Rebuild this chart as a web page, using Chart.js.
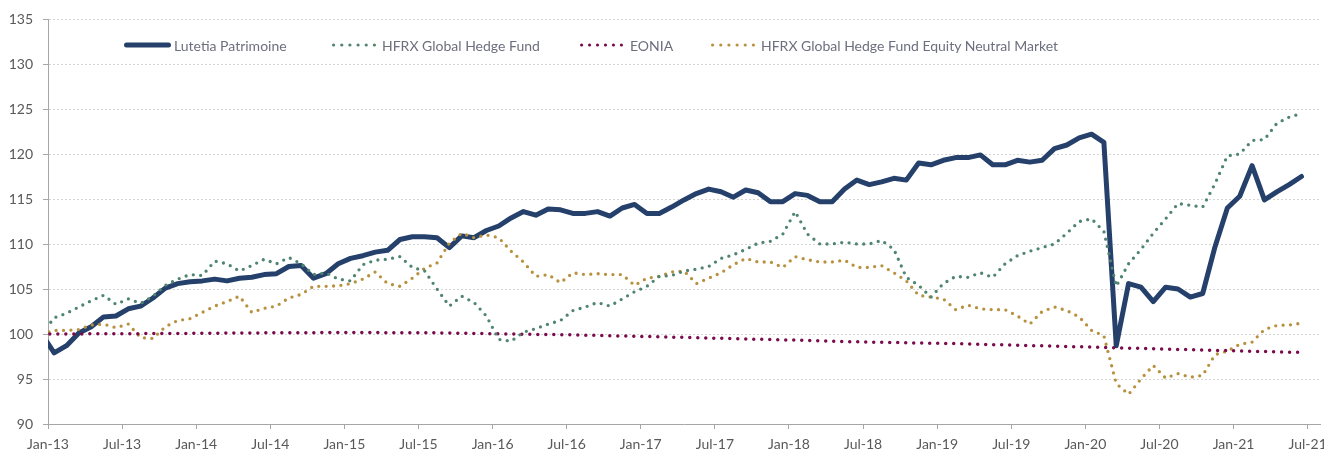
<!DOCTYPE html>
<html>
<head>
<meta charset="utf-8">
<script src="https://cdn.jsdelivr.net/npm/chart.js@4.4.1/dist/chart.umd.min.js"></script>
<style>
  html, body { margin: 0; padding: 0; background: #fff; }
  #wrap { position: relative; width: 1324px; height: 450px; overflow: hidden; }
  #legend { position: absolute; top: 36px; left: 0; font: 14px Lato, sans-serif; color: #6d6f7f; }
  .item { position: absolute; top: 0; height: 18px; display: flex; align-items: center; white-space: nowrap; }
  .item svg { display: block; }
</style>
</head>
<body>
<div id="wrap">
  <canvas id="myChart" width="1324" height="450"></canvas>
  <div id="legend"></div>
</div>
<script>
// monthly index values, Dec-12 (base 100) to Jun-21
var lutetia = [100,
  97.9, 98.7, 100.1, 100.8, 101.9, 102.0, 102.8, 103.1, 104.0, 105.1, 105.6, 105.8,
  105.9, 106.1, 105.9, 106.2, 106.3, 106.6, 106.7, 107.5, 107.6, 106.2, 106.7, 107.8,
  108.4, 108.7, 109.1, 109.3, 110.5, 110.8, 110.8, 110.7, 109.6, 110.9, 110.7, 111.5,
  112.0, 112.9, 113.6, 113.2, 113.9, 113.8, 113.4, 113.4, 113.6, 113.1, 114.0, 114.4,
  113.4, 113.4, 114.1, 114.9, 115.6, 116.1, 115.8, 115.2, 116.0, 115.7, 114.7, 114.7,
  115.6, 115.4, 114.7, 114.7, 116.1, 117.1, 116.6, 116.9, 117.3, 117.1, 119.0, 118.8,
  119.3, 119.6, 119.6, 119.9, 118.8, 118.8, 119.3, 119.1, 119.3, 120.6, 121.0, 121.8,
  122.2, 121.3, 98.7, 105.6, 105.2, 103.6, 105.2, 105.0, 104.1, 104.5, 109.7, 114.0,
  115.3, 118.7, 114.9, 115.8, 116.6, 117.5];

var hfrxGlobal = [100,
  101.8, 102.3, 103.0, 103.7, 104.3, 103.3, 103.9, 103.4, 104.2, 105.4, 106.1, 106.6,
  106.5, 108.1, 107.8, 107.0, 107.6, 108.3, 107.8, 108.5, 107.8, 106.6, 106.8, 106.1,
  105.9, 107.7, 108.2, 108.3, 108.6, 107.4, 107.0, 105.0, 103.1, 104.2, 103.5, 102.0,
  99.4, 99.2, 100.2, 100.6, 101.1, 101.5, 102.6, 103.0, 103.5, 103.1, 103.9, 104.7,
  105.3, 106.4, 106.5, 107.0, 107.2, 107.5, 108.4, 108.8, 109.4, 110.1, 110.3, 111.1,
  113.6, 111.1, 110.0, 110.0, 110.2, 110.0, 110.0, 110.4, 109.4, 106.3, 105.4, 104.1,
  105.6, 106.4, 106.3, 106.8, 106.3, 107.8, 108.7, 109.2, 109.6, 110.0, 111.2, 112.5,
  112.8, 111.4, 105.3, 107.8, 109.4, 111.2, 112.8, 114.5, 114.3, 114.1, 116.7, 119.8,
  120.0, 121.5, 121.6, 123.4, 124.1, 124.5];

var eonia = [100,
  100.00, 100.01, 100.01, 100.02, 100.03, 100.03, 100.04, 100.04, 100.05, 100.06, 100.06, 100.07,
  100.08, 100.09, 100.10, 100.11, 100.12, 100.13, 100.14, 100.14, 100.15, 100.15, 100.16, 100.16,
  100.16, 100.16, 100.16, 100.15, 100.15, 100.15, 100.14, 100.12, 100.10, 100.08, 100.06, 100.04,
  100.02, 100.00, 99.98, 99.96, 99.94, 99.92, 99.90, 99.87, 99.84, 99.81, 99.78, 99.75,
  99.72, 99.69, 99.65, 99.62, 99.59, 99.55, 99.52, 99.49, 99.45, 99.42, 99.39, 99.35,
  99.32, 99.28, 99.24, 99.20, 99.16, 99.13, 99.10, 99.08, 99.05, 99.03, 99.00, 98.98,
  98.96, 98.93, 98.89, 98.86, 98.82, 98.79, 98.76, 98.72, 98.68, 98.65, 98.61, 98.58,
  98.54, 98.50, 98.47, 98.43, 98.40, 98.36, 98.32, 98.29, 98.25, 98.22, 98.18, 98.15,
  98.12, 98.08, 98.05, 98.01, 97.98, 97.95];

var hfrxNeutral = [100,
  100.4, 100.4, 100.5, 101.0, 101.1, 100.7, 101.1, 99.6, 99.5, 100.8, 101.5, 101.7,
  102.4, 103.1, 103.6, 104.2, 102.4, 102.85, 103.1, 104.0, 104.4, 105.3, 105.3, 105.35,
  105.6, 106.1, 106.9, 105.6, 105.3, 106.2, 107.3, 107.9, 110.1, 111.2, 110.7, 111.0,
  110.7, 109.2, 108.0, 106.4, 106.6, 105.7, 106.8, 106.6, 106.7, 106.6, 106.6, 105.4,
  106.2, 106.4, 106.9, 107.0, 105.6, 106.2, 106.8, 107.7, 108.4, 108.0, 108.0, 107.4,
  108.6, 108.25, 108.0, 108.0, 108.2, 107.4, 107.4, 107.6, 106.8, 105.9, 104.3, 104.1,
  103.9, 102.7, 103.2, 102.8, 102.7, 102.7, 102.0, 101.1, 102.5, 103.0, 102.6, 101.9,
  100.4, 99.8, 94.5, 93.3, 95.0, 96.5, 95.1, 95.6, 95.2, 95.4, 97.7, 98.1,
  98.85, 99.1, 100.5, 100.95, 101.0, 101.2];

var tickLabels = ['Jan-13', 'Jul-13', 'Jan-14', 'Jul-14', 'Jan-15', 'Jul-15', 'Jan-16', 'Jul-16', 'Jan-17',
  'Jul-17', 'Jan-18', 'Jul-18', 'Jan-19', 'Jul-19', 'Jan-20', 'Jul-20', 'Jan-21', 'Jul-21'];

// x is months since Jan-13; each monthly point sits mid-month, first value is Dec-12
function toPoints(values) {
  return values.map(function (v, i) { return { x: i - 0.5, y: v }; });
}

Chart.defaults.font.family = 'Lato, sans-serif';
Chart.defaults.font.size = 14;
Chart.defaults.color = '#595959';

var ctx = document.getElementById('myChart').getContext('2d');
var myChart = new Chart(ctx, {
    type: 'line',
    data: {
        datasets: [{
            label: 'Lutetia Patrimoine',
            data: toPoints(lutetia),
            borderColor: '#24406b',
            borderWidth: 5,
            borderJoinStyle: 'round',
            borderCapStyle: 'round',
            order: 1
        },
        {
            label: 'HFRX Global Hedge Fund',
            data: toPoints(hfrxGlobal),
            borderColor: '#4f8470',
            borderWidth: 3.3,
            borderDash: [0, 7.4],
            borderCapStyle: 'round',
            order: 0
        },
        {
            label: 'EONIA',
            data: toPoints(eonia),
            borderColor: '#7b0c4c',
            borderWidth: 3.5,
            borderDash: [0, 8],
            borderCapStyle: 'round',
            order: 0
        },
        {
            label: 'HFRX Global Hedge Fund Equity Neutral Market',
            data: toPoints(hfrxNeutral),
            borderColor: '#b8913f',
            borderWidth: 3.3,
            borderDash: [0, 7.4],
            borderCapStyle: 'round',
            order: 0
        }]
    },
    options: {
        responsive: false,
        animation: false,
        events: [],
        layout: {
            padding: { top: 19, right: 4, left: 0, bottom: 0 }
        },
        elements: {
            point: { radius: 0 },
            line: { tension: 0 }
        },
        plugins: {
            legend: { display: false },
            tooltip: { enabled: false }
        },
        scales: {
            x: {
                type: 'linear',
                min: 0,
                max: 103,
                afterBuildTicks: function (axis) {
                    axis.ticks = tickLabels.map(function (t, i) { return { value: i * 6 }; });
                },
                afterFit: function (axis) {
                    axis.height = 26;
                    axis.paddingLeft = 0;
                    axis.paddingRight = 0;
                },
                ticks: {
                    autoSkip: false,
                    maxRotation: 0,
                    padding: 7.5,
                    callback: function (value) { return tickLabels[value / 6]; }
                },
                grid: {
                    drawOnChartArea: false,
                    tickLength: 5,
                    tickColor: '#a6a6a6'
                },
                border: { color: '#a6a6a6' }
            },
            y: {
                min: 90,
                max: 135,
                afterFit: function (axis) { axis.width = 48; },
                ticks: {
                    stepSize: 5,
                    padding: 10
                },
                grid: {
                    color: '#d4d4d4',
                    tickLength: 5,
                    tickColor: '#a6a6a6'
                },
                border: { color: '#a6a6a6', dash: [2, 2] }
            }
        }
    }
});

// legend drawn inside the plot, as in the original
var legendLayout = [
    { left: 124, width: 47, gap: 3 },
    { left: 332, width: 44, gap: 6 },
    { left: 580, width: 43, gap: 7 },
    { left: 711, width: 44, gap: 6 }
];
var legend = document.getElementById('legend');
var svgNS = 'http://www.w3.org/2000/svg';
myChart.data.datasets.forEach(function (ds, i) {
    var lay = legendLayout[i];
    var item = document.createElement('div');
    item.className = 'item';
    item.style.left = lay.left + 'px';
    var svg = document.createElementNS(svgNS, 'svg');
    svg.setAttribute('width', lay.width);
    svg.setAttribute('height', 8);
    svg.style.marginRight = lay.gap + 'px';
    if (!ds.borderDash) {
        var line = document.createElementNS(svgNS, 'line');
        line.setAttribute('x1', 2.5);
        line.setAttribute('x2', lay.width - 2.5);
        line.setAttribute('y1', 4);
        line.setAttribute('y2', 4);
        line.setAttribute('stroke', ds.borderColor);
        line.setAttribute('stroke-width', 5);
        line.setAttribute('stroke-linecap', 'round');
        svg.appendChild(line);
    } else {
        for (var k = 0; k < 6; k++) {
            var c = document.createElementNS(svgNS, 'circle');
            c.setAttribute('cx', 1.6 + k * (lay.width - 3.2) / 5);
            c.setAttribute('cy', 4);
            c.setAttribute('r', 1.6);
            c.setAttribute('fill', ds.borderColor);
            svg.appendChild(c);
        }
    }
    item.appendChild(svg);
    var span = document.createElement('span');
    span.textContent = ds.label;
    item.appendChild(span);
    legend.appendChild(item);
});
</script>
</body>
</html>
